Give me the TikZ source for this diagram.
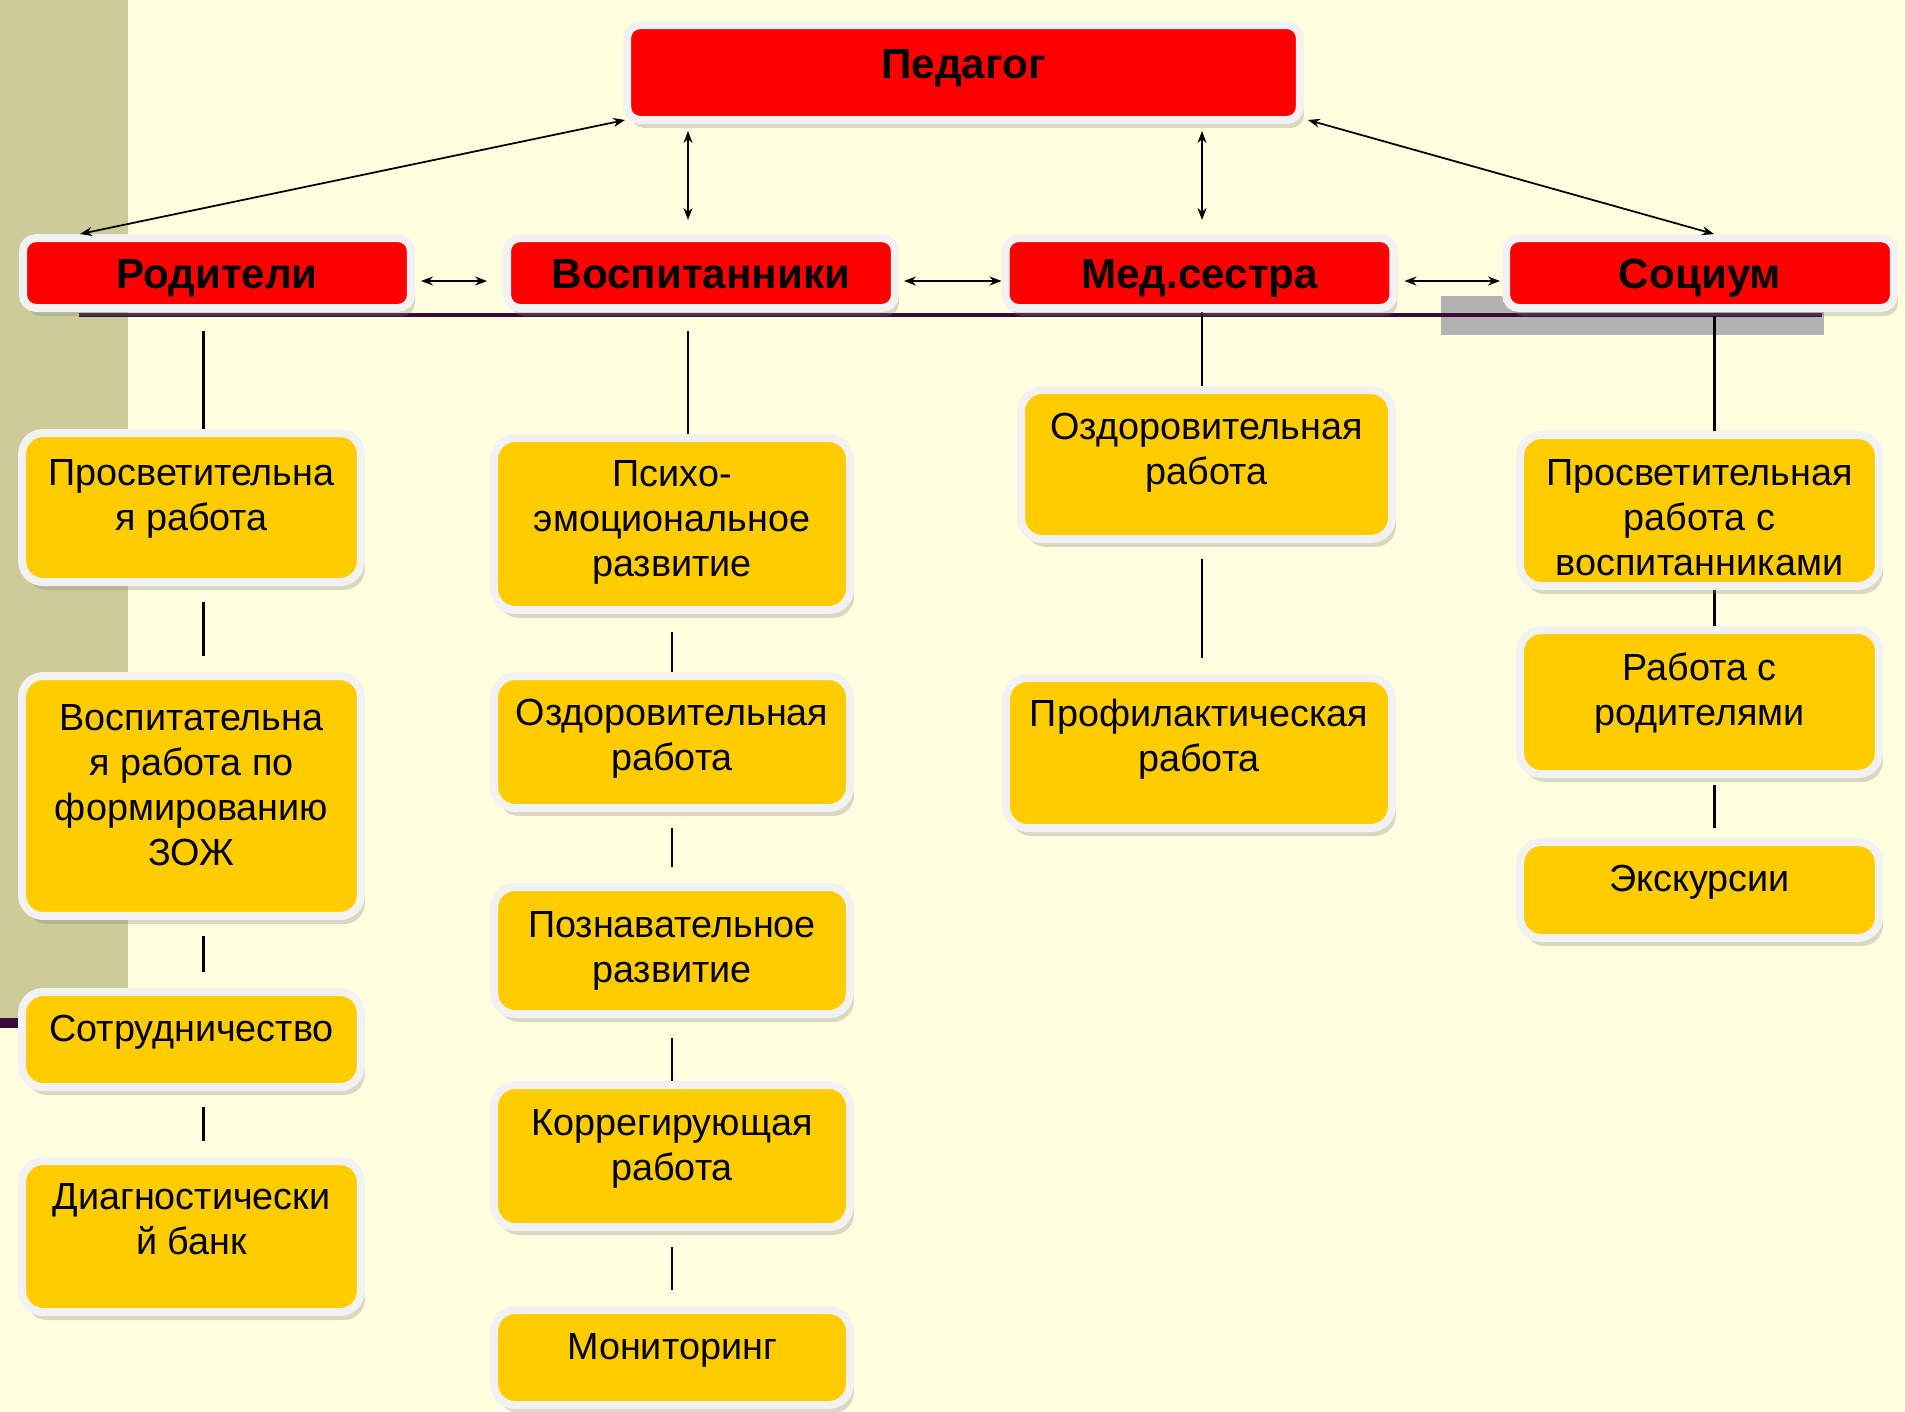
\documentclass[tikz,border=0pt]{standalone}
\usepackage{fontspec}
\setmainfont{Liberation Sans}
\usetikzlibrary{positioning,calc,shadows,backgrounds,arrows.meta}
\definecolor{pagebg}{HTML}{FFFFE0}
\definecolor{stripolive}{HTML}{CCCC99}
\definecolor{headred}{HTML}{FF0000}
\definecolor{cardyellow}{HTML}{FFCC00}
\definecolor{cardrim}{HTML}{F2F2F2}
\definecolor{rulepurple}{HTML}{3A0A3A}
\definecolor{patchgray}{HTML}{B2B2B2}
\def\carddrop{0.45cm}
\tikzset{
  paddrop/.code={\def\carddrop{#1}},
  card/.style={draw=cardrim, line width=0.16cm, rounded corners=0.42cm, fill=cardyellow,
    inner sep=0pt, align=center, font=\fontsize{21.5pt}{25.6pt}\selectfont,
    drop shadow={shadow xshift=0.08cm, shadow yshift=-0.16cm, opacity=0.3},
    execute at end node={\rule[-\carddrop]{0pt}{0pt}}},
  head/.style={draw=cardrim, line width=0.16cm, rounded corners=0.26cm, fill=headred,
    inner sep=0pt, minimum width=7.76cm, minimum height=1.4cm,
    text height=0.6cm, text depth=0cm,
    font=\bfseries\fontsize{24pt}{28pt}\selectfont,
    drop shadow={shadow xshift=0.08cm, shadow yshift=-0.16cm, opacity=0.3}},
  arr/.style={<->, >={Stealth[length=0.24cm,width=0.18cm]}, line width=1pt},
  link/.style={line width=1.3pt},
  gap/.style={shorten <=0.32cm, shorten >=0.32cm}
}
\begin{document}
\begin{tikzpicture}[x=0.02cm, y=-0.02cm]
  \useasboundingbox (0,0) rectangle (1905,1411);

  \node[head, minimum width=13.46cm, minimum height=1.9cm, text depth=0.38cm] (ped) at (963.5,72.5) {Педагог};
  \node[head] (rod) at (217,273) {Родители};
  \node[head] (vos) at (701,273) {Воспитанники};
  \node[head] (med) at (1199.5,273) {Мед.сестра};
  \node[head] (soc) at (1700,273) {Социум};

  \node[card, minimum width=6.78cm, minimum height=2.98cm, paddrop=0.5cm] (rod1) at (191.5,507.5) {Просветительна\\я работа};
  \node[card, minimum width=6.78cm, minimum height=4.8cm] (rod2) at (191.5,796) {Воспитательна\\я работа по\\формированию\\ЗОЖ};
  \node[card, minimum width=6.78cm, minimum height=1.9cm] (rod3) at (191.5,1039.5) {Сотрудничество};
  \node[card, minimum width=6.78cm, minimum height=3.02cm, paddrop=0.69cm] (rod4) at (191.5,1236.5) {Диагностически\\й банк};

  \node[card, minimum width=7.12cm, minimum height=3.44cm, paddrop=0.21cm] (vos1) at (672,524) {Психо-\\эмоциональное\\развитие};
  \node[card, minimum width=7.12cm, minimum height=2.64cm, paddrop=0.28cm] (vos2) at (672,742) {Оздоровительная\\работа};
  \node[card, minimum width=7.12cm, minimum height=2.54cm, paddrop=0.13cm] (vos3) at (672,950.5) {Познавательное\\развитие};
  \node[card, minimum width=7.12cm, minimum height=2.84cm] (vos4) at (672,1156) {Коррегирующая\\работа};
  \node[card, minimum width=7.12cm, minimum height=1.9cm] (vos5) at (672,1357.5) {Мониторинг};

  \node[card, minimum width=7.42cm, minimum height=2.98cm, paddrop=0.62cm] (med1) at (1206.5,464.5) {Оздоровительная\\работа};
  \node[card, minimum width=7.72cm, minimum height=3cm, paddrop=0.69cm] (med2) at (1199,753) {Профилактическая\\работа};

  \node[card, minimum width=7.18cm, minimum height=3.02cm, paddrop=0cm] (soc1) at (1699.5,510.5) {\rule{0pt}{0.8cm}Просветительная\\работа с\\воспитанниками};
  \node[card, minimum width=7.18cm, minimum height=2.88cm, paddrop=0.5cm] (soc2) at (1699.5,702) {Работа с\\родителями};
  \node[card, minimum width=7.18cm, minimum height=1.92cm] (soc3) at (1699.5,890) {Экскурсии};

  \begin{scope}[on background layer]
    \fill[pagebg] (0,0) rectangle (1905,1411);
    \fill[stripolive] (0,0) rectangle (128,1018);
    \draw[rulepurple, line width=0.2cm] (0,1023) -- (60,1023);
    \fill[patchgray] (1441,296) rectangle (1824,335);
    \draw[rulepurple, line width=0.08cm] (79,315) -- (1822,315);

    \draw[link, shorten >=0.38cm] ([xshift=0.24cm]rod1.north) -- ([xshift=0.24cm]rod1.north |- rod.south);
    \draw[link, gap] ([xshift=0.24cm]rod1.south) -- ([xshift=0.24cm]rod2.north);
    \draw[link, gap] ([xshift=0.24cm]rod2.south) -- ([xshift=0.24cm]rod3.north);
    \draw[link, gap] ([xshift=0.24cm]rod3.south) -- ([xshift=0.24cm]rod4.north);

    \draw[link, shorten >=0.38cm] ([xshift=0.32cm]vos1.north) -- ([xshift=0.32cm]vos1.north |- vos.south);
    \draw[link, shorten <=0.36cm] (vos1.south) -- (vos2.north);
    \draw[link, gap] (vos2.south) -- (vos3.north);
    \draw[link, shorten <=0.4cm] (vos3.south) -- (vos4.north);
    \draw[link, gap] (vos4.south) -- (vos5.north);

    \draw[link] ([xshift=-0.09cm]med1.north) -- ([xshift=-0.09cm]med1.north |- med.south);
    \draw[link, gap] ([xshift=-0.09cm]med1.south) -- ([xshift=-0.09cm]med1.south |- med2.north);

    \draw[link, shorten >=0.08cm] ([xshift=0.3cm]soc1.north) -- ([xshift=0.3cm]soc1.north |- soc.south);
    \draw[link] ([xshift=0.3cm]soc1.south) -- ([xshift=0.3cm]soc2.north);
    \draw[link, shorten <=0.14cm, shorten >=0.2cm] ([xshift=0.3cm]soc2.south) -- ([xshift=0.3cm]soc3.north);
  \end{scope}

  \draw[arr] ([xshift=0.04cm,yshift=0.08cm]ped.south west) -- ([xshift=1.22cm]rod.north west);
  \draw[arr, shorten <=0.14cm, shorten >=0.28cm] ([xshift=-0.26cm]vos.north |- ped.south) -- ([xshift=-0.26cm]vos.north);
  \draw[arr, shorten <=0.14cm, shorten >=0.28cm] ([xshift=0.05cm]med.north |- ped.south) -- ([xshift=0.05cm]med.north);
  \draw[arr] ([xshift=0.08cm,yshift=0.08cm]ped.south east) -- ([xshift=0.28cm]soc.north);
  \draw[arr, shorten <=0.12cm, shorten >=0.32cm] ([yshift=-0.16cm]rod.east) -- ([yshift=-0.16cm]vos.west);
  \draw[arr, shorten <=0.1cm] ([yshift=-0.16cm]vos.east) -- ([yshift=-0.16cm]med.west);
  \draw[arr, shorten <=0.14cm, shorten >=0.04cm] ([yshift=-0.16cm]med.east) -- ([yshift=-0.16cm]soc.west);
\end{tikzpicture}
\end{document}
